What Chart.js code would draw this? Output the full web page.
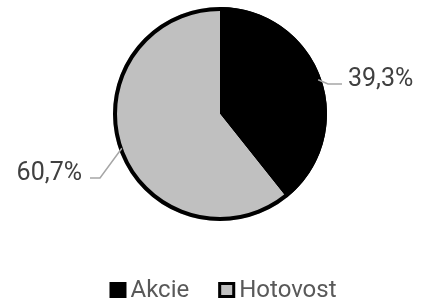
<!DOCTYPE html>
<html>
<head>
<meta charset="utf-8">
<script src="https://cdn.jsdelivr.net/npm/chart.js@4"></script>
<style>
  html, body { margin: 0; padding: 0; background: #ffffff; }
  #wrap { width: 422px; height: 300px; }
</style>
</head>
<body>
<div id="wrap"><canvas id="c" width="422" height="300"></canvas></div>
<script>
// ---- data ----
const categories = ['Akcie', 'Hotovost'];
const shares = [39.3, 60.7];
const labelTexts = ['39,3%', '60,7%'];

// ---- styles ----
const sliceColors = ['#000000', '#c0c0c0'];
const FONT = 'Roboto, "Noto Sans", sans-serif';
const LABEL_SIZE = 25;
const LEGEND_SIZE = 24;

// label placement relative to pie centre (dx, dy of text anchor), side of elbow
const labelPlacement = [
  { dx: 128, dy: -28, align: 'left', elbowDx: 9, hLen: 14 },
  { dx: -138, dy: 66, align: 'right', elbowDx: -19, hLen: 10 }
];

const outlinePlugin = {
  id: 'outline',
  afterDatasetsDraw(chart) {
    const meta = chart.getDatasetMeta(0);
    const arc = meta.data[0];
    if (!arc) return;
    const ctx = chart.ctx;
    ctx.save();
    ctx.beginPath();
    ctx.arc(arc.x, arc.y, arc.outerRadius - 2, 0, Math.PI * 2);
    ctx.lineWidth = 4;
    ctx.strokeStyle = '#000000';
    ctx.stroke();
    ctx.restore();
  }
};

const labelPlugin = {
  id: 'pieLabels',
  afterDraw(chart) {
    const ctx = chart.ctx;
    const meta = chart.getDatasetMeta(0);
    ctx.save();
    ctx.font = LABEL_SIZE + 'px ' + FONT;
    ctx.textBaseline = 'alphabetic';
    meta.data.forEach((arc, i) => {
      const mid = (arc.startAngle + arc.endAngle) / 2;
      const r = arc.outerRadius - 3;
      const sx = arc.x + Math.cos(mid) * r;
      const sy = arc.y + Math.sin(mid) * r;
      const p = labelPlacement[i];
      const tx = arc.x + p.dx;
      const ty = arc.y + p.dy;
      const lineY = ty - 2;
      let hEnd, elbowX;
      if (p.align === 'left') {
        hEnd = tx - 6;
        elbowX = hEnd - p.hLen;
      } else {
        hEnd = tx + 8;
        elbowX = hEnd + p.hLen;
      }
      ctx.beginPath();
      ctx.moveTo(sx, sy);
      ctx.lineTo(elbowX, lineY);
      ctx.lineTo(hEnd, lineY);
      ctx.strokeStyle = '#a6a6a6';
      ctx.lineWidth = 1.5;
      ctx.stroke();
      ctx.fillStyle = '#404040';
      ctx.textAlign = p.align;
      ctx.fillText(labelTexts[i], tx, ty);
    });
    ctx.restore();
  }
};

const legendPlugin = {
  id: 'customLegend',
  afterDraw(chart) {
    const ctx = chart.ctx;
    ctx.save();
    ctx.font = LEGEND_SIZE + 'px ' + FONT;
    ctx.textBaseline = 'alphabetic';
    ctx.textAlign = 'left';
    const box = 17, gap = 4, itemGap = 29;
    const widths = categories.map(c => box + gap + ctx.measureText(c).width);
    const total = widths.reduce((a, b) => a + b, 0) + itemGap * (categories.length - 1);
    let x = 223 - total / 2;
    const baseline = 297;
    categories.forEach((c, i) => {
      const by = baseline - 15;
      ctx.fillStyle = sliceColors[i];
      ctx.fillRect(x, by, box, 16);
      if (i > 0) {
        ctx.lineWidth = 3;
        ctx.strokeStyle = '#000000';
        ctx.strokeRect(x + 1.5, by + 1.5, box - 3, 16 - 3);
      }
      ctx.fillStyle = '#595959';
      ctx.fillText(c, x + box + gap, baseline);
      x += widths[i] + itemGap;
    });
    ctx.restore();
  }
};

new Chart(document.getElementById('c'), {
  type: 'pie',
  data: {
    labels: categories,
    datasets: [{
      data: shares,
      backgroundColor: sliceColors,
      borderWidth: 0
    }]
  },
  options: {
    responsive: false,
    devicePixelRatio: 1,
    animation: false,
    layout: { padding: { left: 113, top: 7, right: 95, bottom: 79 } },
    plugins: {
      legend: { display: false },
      tooltip: { enabled: false }
    }
  },
  plugins: [outlinePlugin, labelPlugin, legendPlugin]
});
</script>
</body>
</html>
